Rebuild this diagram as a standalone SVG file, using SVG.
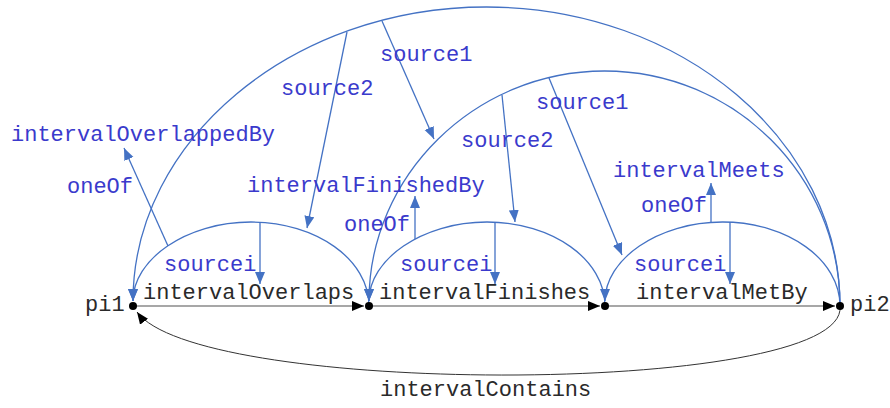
<svg xmlns="http://www.w3.org/2000/svg" width="890" height="408" viewBox="0 0 890 408">
  <style>
    text { font-family: "Liberation Mono", "Courier New", monospace; font-size: 22px; }
    .blk { fill: #2a2a2a; }
    .blu { fill: #3a3acc; }
    .bl { fill: none; stroke: #4472c4; stroke-width: 1.3; }
    .ba { fill: none; stroke: #4472c4; stroke-width: 1.3; marker-end: url(#ab); }
    .ka { fill: none; stroke: #8a8a8a; stroke-width: 1.3; marker-end: url(#ak); }
    .kc { fill: none; stroke: #333; stroke-width: 1; marker-end: url(#ak); }
    .dot { fill: #000; }
  </style>
  <defs>
    <marker id="ab" markerUnits="userSpaceOnUse" markerWidth="13" markerHeight="11" refX="12" refY="5" orient="auto">
      <path d="M0,0 L12,5 L0,10 z" fill="#4472c4"/>
    </marker>
    <marker id="ak" markerUnits="userSpaceOnUse" markerWidth="13" markerHeight="11" refX="12" refY="5" orient="auto">
      <path d="M0,0 L12,5 L0,10 z" fill="#000"/>
    </marker>
  </defs>

  <g id="connectors">
    <!-- small arcs between neighbouring points -->
    <path class="ba" d="M369,306 C369,259.6 316.2,222 251,222 C185.8,222 133,259.6 133,301"/>
    <path class="ba" d="M605,306 C605,259.6 552.2,222 487,222 C421.8,222 369,259.6 369,301"/>
    <path class="ba" d="M840,306 C840,259.6 787.4,222 722.5,222 C657.6,222 605,259.6 605,301"/>
    <!-- large arcs -->
    <path class="ba" d="M840,306 C840,140.9 681.7,7 486.5,7 C291.3,7 133,140.9 133,301"/>
    <path class="ba" d="M840,306 C840,176.2 734.6,71 604.5,71 C474.4,71 369,176.2 369,301"/>
    <!-- source links -->
    <path class="ba" d="M382,21 L434,139"/>
    <path class="ba" d="M347,32 L307,228"/>
    <path class="ba" d="M502,95 L515,222"/>
    <path class="ba" d="M549,78 L622,255"/>
    <path class="ba" d="M260,222 L260,284"/>
    <path class="ba" d="M495,222 L495,284"/>
    <path class="ba" d="M730,222 L730,284"/>
    <!-- oneOf links -->
    <path class="ba" d="M168,246 L124,148"/>
    <path class="ba" d="M415,239 L415,196"/>
    <path class="ba" d="M711,222 L711,183"/>
    <!-- point chain -->
    <path class="ka" d="M133,306 H364"/>
    <path class="ka" d="M369,306 H600"/>
    <path class="ka" d="M605,306 H835"/>
    <path class="kc" d="M840,306 C850,396 200,398 137,312"/>

    <text class="blu" x="380" y="61">source1</text>
    <text class="blu" x="281" y="95">source2</text>
    <text class="blu" x="461" y="147">source2</text>
    <text class="blu" x="536" y="109">source1</text>
    <text class="blu" x="164" y="271">sourcei</text>
    <text class="blu" x="400" y="271">sourcei</text>
    <text class="blu" x="634" y="271">sourcei</text>
    <text class="blu" x="67" y="193">oneOf</text>
    <text class="blu" x="344" y="231">oneOf</text>
    <text class="blu" x="641" y="212">oneOf</text>
    <text class="blk" x="143" y="299">intervalOverlaps</text>
    <text class="blk" x="379" y="299">intervalFinishes</text>
    <text class="blk" x="636" y="299">intervalMetBy</text>
    <text class="blk" x="380" y="396">intervalContains</text>
  </g>

  <g id="pi1">
    <circle class="dot" cx="133" cy="306" r="4"/>
    <text class="blk" x="85" y="311">pi1</text>
  </g>
  <g id="p2">
    <circle class="dot" cx="369" cy="306" r="4"/>
  </g>
  <g id="p3">
    <circle class="dot" cx="605" cy="306" r="4"/>
  </g>
  <g id="pi2">
    <circle class="dot" cx="840" cy="306" r="4"/>
    <text class="blk" x="850" y="311">pi2</text>
  </g>
  <g id="intervalOverlappedBy">
    <text class="blu" x="11" y="141">intervalOverlappedBy</text>
  </g>
  <g id="intervalFinishedBy">
    <text class="blu" x="247" y="192">intervalFinishedBy</text>
  </g>
  <g id="intervalMeets">
    <text class="blu" x="613" y="177">intervalMeets</text>
  </g>
</svg>
